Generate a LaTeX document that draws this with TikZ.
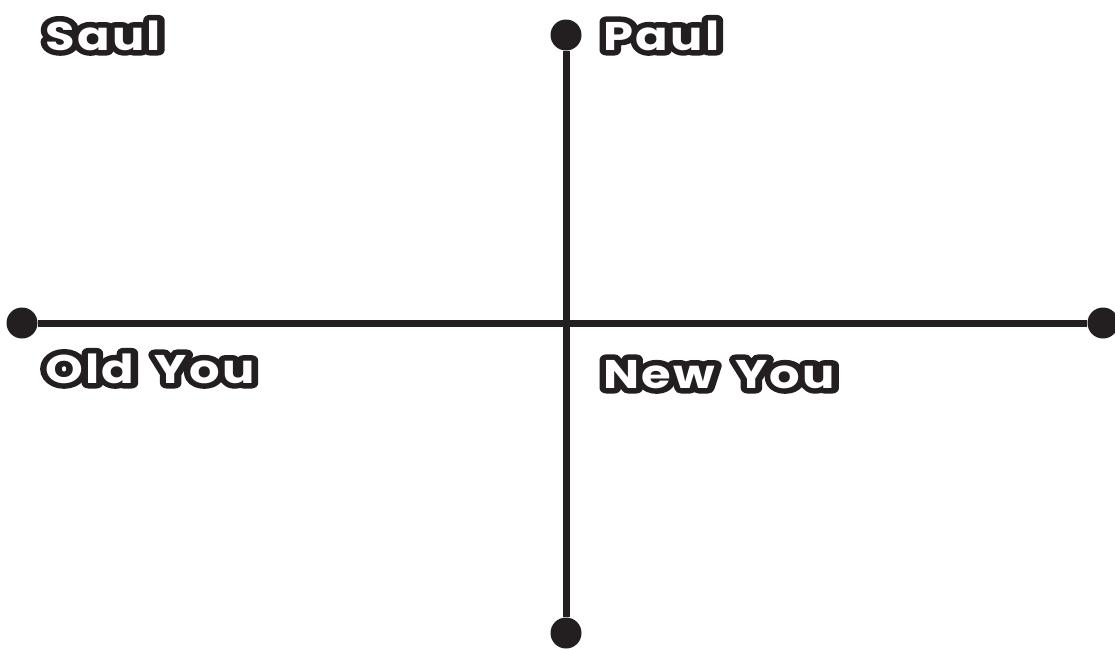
\documentclass[tikz,border=0pt]{standalone}
\usepackage{fontspec}
\setmainfont{Poppins}[LetterSpace=5,WordSpace=1.6]
\usepackage{xcolor}
\usetikzlibrary{positioning}
\definecolor{inkblack}{RGB}{35,31,32}

\tikzset{
  dot/.style={circle,fill=inkblack,minimum size=31pt,inner sep=0pt},
  axis/.style={draw=inkblack,line width=7pt},
  tag/.style={anchor=base west,inner sep=0pt,font=\fontsize{40}{40}\selectfont\bfseries}
}
% white letters with a thick black rim
\newcommand{\bubble}[1]{\scalebox{1.2}[1]{%
  \rlap{\special{pdf:literal direct 2 Tr 11 w 1 j}\textcolor{inkblack}{#1}\special{pdf:literal direct 0 Tr}}%
  \textcolor{white}{#1}}}

\begin{document}
\begin{tikzpicture}[x=1pt,y=-1pt]
    \useasboundingbox (0,0) rectangle (1115,648);
    \node[dot] (west) at (22,323) {};
    \node[dot] (east) at (1103,323) {};
    \node[dot] (north) at (566,35) {};
    \node[dot] (south) at (566,633) {};
    \draw[axis] (west) -- (east);
    \draw[axis] (north) -- (south);
    \node[tag] (saul) at (45,50) {\bubble{Saul}};
    \node[tag] (paul) at (603,50) {\bubble{Paul}};
    \node[tag] (old) at (45,383) {\bubble{Old You}};
    \node[tag] (new) at (603,388) {\bubble{New You}};
\end{tikzpicture}
\end{document}
